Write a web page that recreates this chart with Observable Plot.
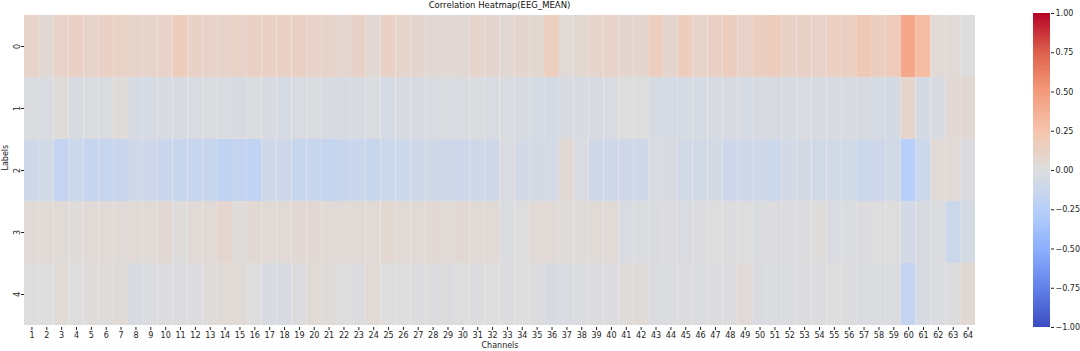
<!DOCTYPE html>
<html>
<head>
<meta charset="utf-8">
<script src="https://cdn.jsdelivr.net/npm/d3@7"></script>
<script src="https://cdn.jsdelivr.net/npm/@observablehq/plot@0.6"></script>
<style>
  html, body { margin: 0; padding: 0; background: #fff; overflow: hidden; }
  #wrap { position: relative; width: 1080px; height: 351px; font-family: "DejaVu Sans", sans-serif; }
  #title { position: absolute; top: 0px; left: 24px; width: 951px; text-align: center; font-size: 8.5px; line-height: 11px; color: #111; }
  #main { position: absolute; left: 0; top: 0; width: 985px; }
  #cbar { position: absolute; left: 1020px; top: 0; width: 80px; }
  svg { max-width: none !important; }
</style>
</head>
<body>
<div id="wrap">
  <div id="main"></div>
  <div id="cbar"></div>
  <div id="title">Correlation Heatmap(EEG_MEAN)</div>
</div>
<script>
const channels = [1,2,3,4,5,6,7,8,9,10,11,12,13,14,15,16,17,18,19,20,21,22,23,24,25,26,27,28,29,30,31,32,
  33,34,35,36,37,38,39,40,41,42,43,44,45,46,47,48,49,50,51,52,53,54,55,56,57,58,59,60,61,62,63,64];
const labels = [0, 1, 2, 3, 4];

const label0 = [0.10,0.05,0.10,0.12,0.09,0.12,0.11,0.10,0.09,0.10,0.17,0.11,0.10,0.10,0.11,0.13,
  0.12,0.12,0.13,0.10,0.10,0.07,0.11,0.05,0.12,0.08,0.07,0.05,0.05,0.05,0.08,0.07,
  0.05,0.07,0.06,0.16,0.04,0.06,0.08,0.10,0.07,0.07,0.16,0.07,0.16,0.09,0.12,0.16,
  0.10,0.15,0.16,0.11,0.11,0.10,0.14,0.14,0.20,0.15,0.18,0.42,0.29,0.04,0.04,0.00];
const label1 = [-0.02,-0.03,0.02,-0.04,-0.02,-0.03,0.02,-0.05,-0.05,-0.04,-0.04,-0.03,-0.02,-0.03,-0.04,-0.02,
  -0.04,-0.05,-0.03,-0.02,-0.04,-0.04,-0.04,-0.02,-0.05,-0.04,-0.04,-0.03,-0.03,-0.03,-0.02,-0.03,
  -0.03,-0.04,-0.05,-0.06,-0.04,-0.04,-0.04,-0.03,0.00,0.00,-0.05,-0.05,-0.05,-0.05,-0.04,-0.04,
  -0.05,-0.04,-0.04,-0.04,-0.03,-0.04,-0.04,-0.04,-0.04,-0.05,-0.06,0.08,-0.06,-0.04,0.05,0.05];
const label2 = [-0.10,-0.08,-0.17,-0.12,-0.16,-0.15,-0.15,-0.10,-0.11,-0.13,-0.14,-0.15,-0.14,-0.19,-0.17,-0.19,
  -0.10,-0.11,-0.14,-0.14,-0.16,-0.14,-0.13,-0.14,-0.12,-0.12,-0.10,-0.09,-0.11,-0.11,-0.10,-0.10,
  -0.03,-0.07,-0.06,-0.07,0.05,-0.03,-0.09,-0.10,-0.09,-0.10,-0.03,-0.04,-0.08,-0.08,-0.06,-0.11,
  -0.10,-0.10,-0.12,-0.07,-0.06,-0.08,-0.08,-0.08,-0.12,-0.11,-0.08,-0.25,-0.12,0.04,0.04,-0.02];
const label3 = [0.04,0.04,0.03,0.02,0.04,0.04,0.03,0.04,0.03,0.05,0.01,0.04,0.04,0.07,0.02,0.05,
  0.04,0.04,0.05,0.05,0.04,0.04,0.04,0.04,0.06,0.04,0.04,0.05,0.04,0.05,0.04,0.04,
  -0.02,0.00,0.04,0.04,0.02,0.02,0.03,0.04,-0.03,-0.02,-0.03,-0.01,-0.03,-0.01,0.00,-0.01,
  0.00,-0.02,-0.01,-0.01,-0.01,0.01,-0.03,-0.02,-0.01,0.00,0.00,-0.07,-0.04,-0.02,-0.12,-0.06];
const label4 = [0.00,0.00,0.03,0.00,0.02,0.01,0.03,-0.04,-0.02,-0.01,-0.01,-0.01,0.02,0.03,0.03,0.00,
  -0.04,-0.04,-0.01,0.03,0.02,0.00,-0.01,0.04,0.00,0.00,-0.01,-0.01,-0.01,0.00,-0.01,0.00,
  -0.01,0.00,-0.01,-0.04,-0.03,-0.02,-0.01,-0.01,0.02,0.03,-0.02,-0.02,-0.01,-0.02,-0.01,-0.01,
  0.04,-0.03,-0.02,-0.02,-0.01,-0.01,0.00,-0.01,-0.03,-0.02,-0.02,-0.17,-0.04,-0.02,-0.01,0.05];

const colorTicks = [-1, -0.75, -0.5, -0.25, 0, 0.25, 0.5, 0.75, 1];
const coolwarm = ["#3b4cc0","#6282ea","#8db0fe","#b8d0f9","#dddddd","#f5c4ac","#f49a7b","#de604d","#b40426"];

const rows = [label0, label1, label2, label3, label4];
const cells = [];
rows.forEach((vals, i) => vals.forEach((v, j) => cells.push({label: labels[i], channel: channels[j], value: v})));

const colorScale = {type: "linear", domain: colorTicks, range: coolwarm, clamp: true};
const font = "DejaVu Sans, sans-serif";

const main = Plot.plot({
  width: 985,
  height: 351,
  marginLeft: 24,
  marginRight: 10,
  marginTop: 13,
  marginBottom: 24,
  style: {fontFamily: font, fontSize: "8px", color: "#222", background: "transparent"},
  x: {type: "band", domain: channels, padding: 0, label: null},
  y: {type: "band", domain: labels, padding: 0, label: null},
  color: colorScale,
  marks: [
    Plot.cell(cells, {x: "channel", y: "label", fill: "value", inset: 0, stroke: "#ffffff", strokeOpacity: 0.12, strokeWidth: 0.5}),
    Plot.axisX({tickSize: 3, tickPadding: 2, fontSize: 8, label: null}),
    Plot.axisY({tickSize: 3, tickPadding: 2, fontSize: 8, tickRotate: -90, label: null}),
    Plot.text(["Channels"], {frameAnchor: "bottom", dy: 20, fontSize: 8, fill: "#222"}),
    Plot.text(["Labels"], {frameAnchor: "left", dx: -19, rotate: -90, fontSize: 8, fill: "#222"})
  ]
});
document.getElementById("main").appendChild(main);

// vertical colorbar
const steps = d3.range(0, 200).map(i => ({y1: -1 + i * 0.01, y2: -1 + (i + 1) * 0.01, v: -1 + (i + 0.5) * 0.01}));
const cbar = Plot.plot({
  width: 80,
  height: 351,
  marginLeft: 13,
  marginRight: 50,
  marginTop: 13,
  marginBottom: 24,
  style: {fontFamily: font, fontSize: "8px", color: "#222", background: "transparent"},
  x: {domain: [0, 1], axis: null},
  y: {domain: [-1, 1], label: null},
  color: colorScale,
  marks: [
    Plot.rect(steps, {x1: 0, x2: 1, y1: "y1", y2: "y2", fill: "v", shapeRendering: "crispEdges"}),
    Plot.axisY({anchor: "right", ticks: colorTicks, tickFormat: d3.format(".2f"), tickSize: 3, tickPadding: 2, fontSize: 8, label: null})
  ]
});
document.getElementById("cbar").appendChild(cbar);
</script>
</body>
</html>
